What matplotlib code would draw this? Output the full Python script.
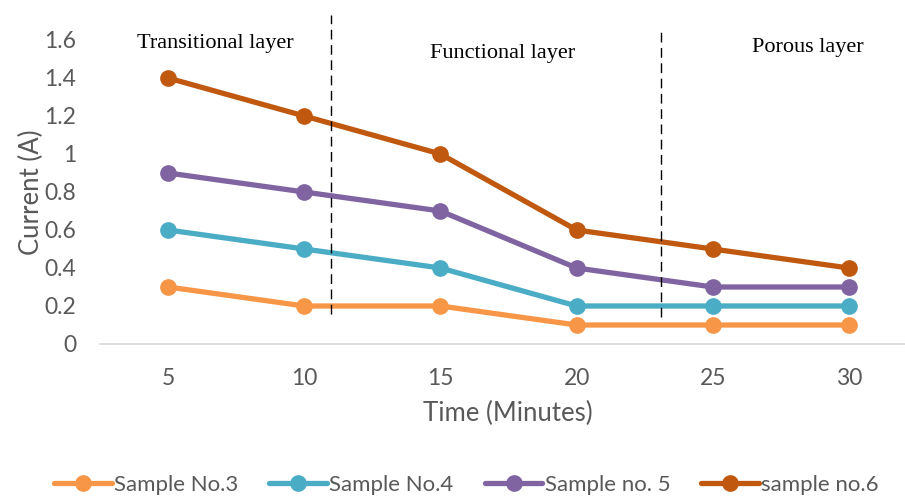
import matplotlib
matplotlib.use("Agg")
import matplotlib.pyplot as plt
import numpy as np

# data
minutes = ["5", "10", "15", "20", "25", "30"]
sample3 = [0.3, 0.2, 0.2, 0.1, 0.1, 0.1]
sample4 = [0.6, 0.5, 0.4, 0.2, 0.2, 0.2]
sample5 = [0.9, 0.8, 0.7, 0.4, 0.3, 0.3]
sample6 = [1.4, 1.2, 1.0, 0.6, 0.5, 0.4]
names = ["Sample No.3", "Sample No.4", "Sample no. 5", "sample no.6"]
colors = ["#F79646", "#4BACC6", "#8064A2", "#C0590F"]
yticks = [0, 0.2, 0.4, 0.6, 0.8, 1.0, 1.2, 1.4, 1.6]
layers = ["Transitional layer", "Functional layer", "Porous layer"]

fig = plt.figure(figsize=(9.05, 4.99), dpi=100)
ax = fig.add_axes([100 / 905, 155 / 499, 817 / 905, 304 / 499])

x = np.arange(len(minutes))
for vals, name, c in zip([sample3, sample4, sample5, sample6], names, colors):
    ax.plot(x, vals, color=c, lw=3.8, marker="o", ms=11, label=name,
            solid_capstyle="round", clip_on=False)

ax.set_xlim(-0.5, len(minutes) - 0.5)
ax.set_ylim(0, 1.6)
ax.set_xticks(x)
ax.set_xticklabels(minutes)
ax.set_yticks(yticks)
ax.set_yticklabels(["%g" % v for v in yticks])

for lab in ax.get_xticklabels() + ax.get_yticklabels():
    lab.set_fontfamily("Lato")
    lab.set_fontsize(16.5)
    lab.set_color("#595959")
ax.tick_params(length=0)
ax.tick_params(axis="y", pad=17)
ax.tick_params(axis="x", pad=17)

for s in ["top", "right", "left"]:
    ax.spines[s].set_visible(False)
ax.spines["bottom"].set_color("#D9D9D9")
ax.spines["bottom"].set_linewidth(1.2)

label_font = dict(family="Lato", size=18.5, color="#595959")
ax.set_xlabel("Time (Minutes)", fontdict=label_font)
ax.set_ylabel("Current (A)", fontdict=label_font)
ax.xaxis.set_label_coords((508 - 100) / 817, -57 / 304)
ax.yaxis.set_label_coords(-56 / 817, (344 - 192) / 304)

# layer boundaries
ax.plot([1.2, 1.2], [0.16, 1.73], ls=(0, (7, 4)), color="black", lw=1, clip_on=False)
ax.plot([3.62, 3.62], [0.14, 1.66], ls=(0, (7, 4)), color="black", lw=1, clip_on=False)

serif = dict(family="Liberation Serif", size=16, color="black", ha="center", va="center")
ax.text(0.35, 1.58, layers[0], **serif)
ax.text(2.46, 1.53, layers[1], **serif)
ax.text(4.7, 1.56, layers[2], **serif)

fig.legend(loc="lower left", bbox_to_anchor=(45 / 905, -5 / 499), ncol=4,
           frameon=False, prop=dict(family="Lato", size=16), labelcolor="#595959",
           handlelength=2.6, handletextpad=0.1, columnspacing=1.4, borderaxespad=0)

fig.savefig("out.png", dpi=100)
